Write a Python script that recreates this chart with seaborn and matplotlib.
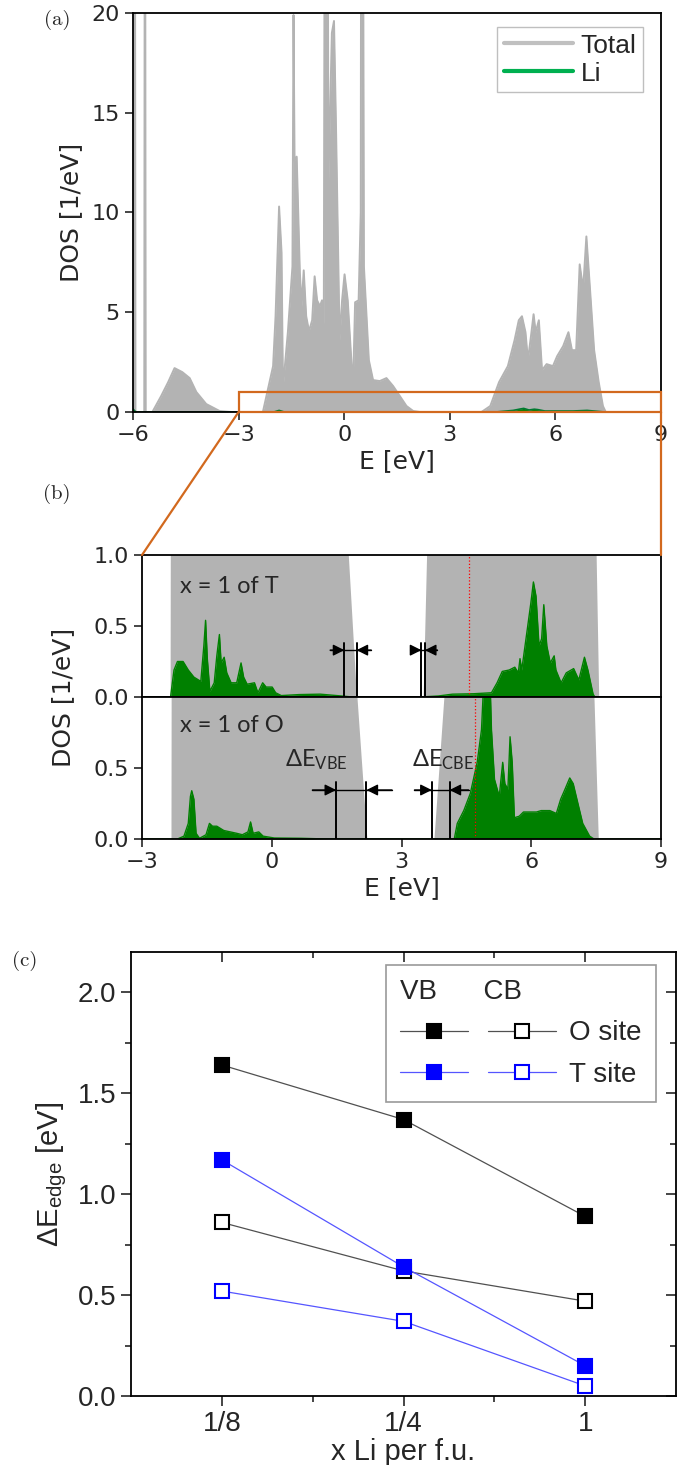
import numpy as np
import pandas as pd
import matplotlib
matplotlib.use("Agg")
import matplotlib.pyplot as plt
import seaborn as sns
from matplotlib.patches import Rectangle, ConnectionPatch
from matplotlib.lines import Line2D
from matplotlib.legend_handler import HandlerTuple
from matplotlib.ticker import MultipleLocator, FixedLocator, FormatStrFormatter

# ---------------- data: panel (a) total DOS and Li DOS ----------------
tot_E = [-6.0, -5.97, -5.95, -5.93, -5.68, -5.66, -5.64, -5.45, -5.2, -5.0, -4.82, -4.6, -4.39,
         -4.2, -3.92, -3.54, -3.2, -2.31, -2.02, -1.95, -1.85, -1.78, -1.74, -1.6, -1.47, -1.44,
         -1.41, -1.35, -1.26, -1.21, -1.15, -1.08, -1.0, -0.91, -0.84, -0.77, -0.69, -0.63, -0.58,
         -0.54, -0.52, -0.48, -0.45, -0.35, -0.29, -0.23, -0.13, -0.06, 0.01, 0.1, 0.25, 0.31, 0.41,
         0.47, 0.49, 0.52, 0.56, 0.7, 0.82, 1.01, 1.2, 1.39, 1.58, 1.77, 1.96, 2.15, 3.9, 4.15, 4.4,
         4.65, 4.84, 4.96, 5.05, 5.15, 5.22, 5.32, 5.38, 5.44, 5.53, 5.62, 5.75, 5.93, 6.05, 6.22,
         6.37, 6.47, 6.59, 6.69, 6.76, 6.8, 6.88, 6.97, 7.1, 7.23, 7.35, 7.43, 9.0]
tot_D = [0, 0, 40, 0, 0, 40, 0, 0, 0.8, 1.5, 2.2, 2.0, 1.7,
         1.0, 0.4, 0.05, 0, 0, 2.3, 4.8, 10.3, 8.0, 1.2, 4.0, 7.3, 19.9,
         12.6, 12.8, 7.0, 5.3, 7.1, 4.8, 4.05, 4.6, 6.8, 5.6, 5.3, 5.6, 3.8,
         40, 11.0, 40, 11.3, 19.0, 19.6, 14.0, 3.6, 5.6, 6.9, 5.6, 1.2, 5.5, 5.6,
         10.0, 40, 40, 7.3, 2.6, 1.6, 1.55, 1.7, 1.3, 0.8, 0.3, 0.05, 0, 0, 0.3, 1.5,
         2.3, 3.6, 4.6, 4.8, 4.0, 2.6, 4.0, 4.9, 4.0, 4.6, 2.1, 2.4, 2.3, 2.8, 3.3,
         4.0, 3.1, 3.1, 7.4, 6.5, 6.5, 8.8, 6.5, 3.1, 1.5, 0.3, 0, 0]
li_E = [-6.0, -5.95, -5.9, -2.0, -1.85, -1.7, 4.3, 4.8, 5.0, 5.1, 5.25, 5.4, 5.5, 5.7, 6.5, 6.9, 7.4, 9.0]
li_D = [0.15, 0.05, 0.0, 0.0, 0.08, 0.0, 0.0, 0.08, 0.15, 0.18, 0.1, 0.14, 0.12, 0.05, 0.05, 0.08, 0.0, 0.0]

# ---------------- data: panel (b) ----------------
# total DOS envelopes (clipped at 1 in the plot)
totT_E = [-3.0, -2.35, -2.33, 1.70, 1.77, 1.96, 3.50, 3.58, 3.65, 7.44, 7.50, 7.56, 9.0]
totT_D = [0, 0, 5, 5, 1.0, 0, 0, 1.0, 5, 5, 1.0, 0, 0]
totO_E = [-3.0, -2.33, -2.31, 1.85, 1.97, 2.20, 3.75, 3.98, 4.05, 7.40, 7.45, 7.55, 9.0]
totO_D = [0, 0, 5, 5, 1.0, 0, 0, 1.0, 5, 5, 1.0, 0, 0]

liT_E = [-3.0, -2.34, -2.26, -2.18, -2.05, -1.93, -1.80, -1.64, -1.57, -1.53, -1.49, -1.43, -1.33,
         -1.27, -1.21, -1.17, -1.10, -1.04, -0.94, -0.81, -0.71, -0.65, -0.57, -0.40, -0.32, -0.21,
         -0.13, 0.01, 0.09, 0.22, 0.63, 1.12, 1.62, 1.87, 3.43, 3.85, 4.18, 4.67, 5.08, 5.21, 5.33,
         5.49, 5.62, 5.70, 5.74, 5.78, 5.91, 5.99, 6.05, 6.11, 6.18, 6.24, 6.29, 6.36, 6.44, 6.53,
         6.57, 6.69, 6.81, 6.98, 7.10, 7.23, 7.31, 7.43, 7.47, 9.0]
liT_D = [0, 0, 0.19, 0.25, 0.25, 0.19, 0.14, 0.11, 0.36, 0.54, 0.27, 0.04, 0.10,
         0.29, 0.44, 0.24, 0.28, 0.17, 0.10, 0.10, 0.24, 0.14, 0.09, 0.10, 0.03, 0.10,
         0.07, 0.07, 0.03, 0.01, 0.017, 0.02, 0.007, 0, 0, 0.007, 0.02, 0.023, 0.03, 0.10, 0.18,
         0.19, 0.21, 0.17, 0.27, 0.19, 0.48, 0.66, 0.81, 0.71, 0.36, 0.41, 0.65, 0.36, 0.24, 0.29,
         0.19, 0.10, 0.17, 0.20, 0.12, 0.28, 0.19, 0.02, 0, 0]
liO_E = [-3.0, -2.18, -2.03, -1.93, -1.88, -1.85, -1.80, -1.75, -1.67, -1.52, -1.44, -1.37, -1.27,
         -1.11, -0.96, -0.81, -0.68, -0.55, -0.49, -0.43, -0.30, -0.20, 0.06, 0.67, 1.28, 4.22,
         4.29, 4.44, 4.59, 4.75, 4.85, 4.93, 5.03, 5.08, 5.15, 5.26, 5.34, 5.39, 5.46, 5.51, 5.56,
         5.61, 5.72, 5.82, 5.97, 6.12, 6.23, 6.43, 6.58, 6.68, 6.78, 6.89, 6.97, 7.04, 7.19, 7.35,
         7.45, 9.0]
liO_D = [0, 0, 0.02, 0.11, 0.30, 0.34, 0.28, 0.04, 0.005, 0.03, 0.11, 0.09, 0.09,
         0.06, 0.05, 0.04, 0.03, 0.05, 0.12, 0.04, 0.05, 0.02, 0.007, 0.005, 0, 0,
         0.11, 0.20, 0.32, 0.54, 0.77, 1.3, 1.3, 0.77, 0.42, 0.30, 0.54, 0.39, 0.35, 0.72, 0.54,
         0.15, 0.16, 0.19, 0.19, 0.19, 0.20, 0.20, 0.18, 0.28, 0.35, 0.43, 0.39, 0.30, 0.11, 0.02,
         0, 0]
fermi_T = 4.56
fermi_O = 4.69
vbe_T = [1.68, 1.96]
cbe_T = [3.46, 3.54]
vbe_O = [1.49, 2.19]
cbe_O = [3.70, 4.11]

# ---------------- data: panel (c) ----------------
x_labels = ["1/8", "1/4", "1"]
vb_O = [1.64, 1.37, 0.89]
cb_O = [0.86, 0.62, 0.47]
vb_T = [1.17, 0.64, 0.15]
cb_T = [0.52, 0.37, 0.05]

# ---------------- style ----------------
sns.set_theme(style="ticks")
plt.rcParams['font.family'] = ['DejaVu Sans']
plt.rcParams['mathtext.default'] = 'regular'
plt.rcParams['axes.linewidth'] = 1.3

GRAY = "#b3b3b3"
GREEN = "#008000"
ORANGE = "#d2691e"

W, H = 691, 1465
fig = plt.figure(figsize=(W / 100, H / 100), dpi=100)

def box(l, t, r, b):
    return [l / W, 1 - b / H, (r - l) / W, (b - t) / H]

ax_a = fig.add_axes(box(133, 13, 661, 412))
ax_bt = fig.add_axes(box(142, 555, 661, 697))
ax_bb = fig.add_axes(box(142, 697, 661, 839), sharex=ax_bt)
ax_c = fig.add_axes(box(131, 952, 676, 1396))

TICK = 16
LAB = 18

# ---------------- panel (a) ----------------
dfa = pd.DataFrame({"E": tot_E, "DOS": tot_D})
dfl = pd.DataFrame({"E": li_E, "DOS": li_D})
ax_a.fill_between(dfa["E"], 0, dfa["DOS"], color=GRAY, lw=0)
sns.lineplot(data=dfa, x="E", y="DOS", ax=ax_a, color=GRAY, lw=1.4,
             sort=False, estimator=None)
ax_a.fill_between(dfl["E"], 0, dfl["DOS"], color=GREEN, lw=0)
sns.lineplot(data=dfl, x="E", y="DOS", ax=ax_a, color="#007a30", lw=1.2,
             sort=False, estimator=None)
ax_a.set_xlim(-6, 9)
ax_a.set_ylim(0, 20)
ax_a.xaxis.set_major_locator(MultipleLocator(3))
ax_a.yaxis.set_major_locator(MultipleLocator(5))
ax_a.set_xlabel("E [eV]", fontsize=LAB, labelpad=3)
ax_a.set_ylabel("DOS [1/eV]", fontsize=LAB, labelpad=6)
ax_a.tick_params(labelsize=TICK, width=1.2, length=6, direction="out")
leg_handles = [Line2D([], [], color="#c0c0c0", lw=3), Line2D([], [], color="#00b050", lw=3)]
leg = ax_a.legend(leg_handles, ["Total", "Li"], loc="upper right",
                  prop={"family": "Liberation Sans", "size": 19},
                  frameon=True, fancybox=False, edgecolor="#b0b0b0", handlelength=2.6,
                  handletextpad=0.3, borderpad=0.25, labelspacing=0.15, borderaxespad=0,
                  bbox_to_anchor=(0.966, 0.965))
leg.get_frame().set_linewidth(1.0)
for sp in ax_a.spines.values():
    sp.set_color("black")

rect = Rectangle((-3, 0), 12, 1, fill=False, edgecolor=ORANGE, lw=1.6, clip_on=False, zorder=5)
ax_a.add_patch(rect)

# ---------------- panel (b) ----------------
panels_b = [
    (ax_bt, totT_E, totT_D, liT_E, liT_D, fermi_T, "x = 1 of T", 0.78),
    (ax_bb, totO_E, totO_D, liO_E, liO_D, fermi_O, "x = 1 of O", 0.80),
]
for ax, tE, tD, lE, lD, ef, txt, ty in panels_b:
    ax.fill_between(tE, 0, tD, color=GRAY, lw=0)
    ax.fill_between(lE, 0, lD, color=GREEN, lw=0)
    sns.lineplot(x=lE, y=lD, ax=ax, color=GREEN, lw=1.0, sort=False, estimator=None)
    ax.axvline(ef, color="red", ls=":", lw=0.9)
    ax.set_xlim(-3, 9)
    ax.set_ylim(0, 1)
    ax.text(-2.13, ty, txt, fontsize=17, family="Lato", va="center", ha="left")
    ax.tick_params(labelsize=TICK, width=1.2, length=6, direction="out")
    ax.set_ylabel("")
    for sp in ax.spines.values():
        sp.set_color("black")

ax_bt.yaxis.set_major_locator(FixedLocator([0.0, 0.5, 1.0]))
ax_bb.yaxis.set_major_locator(FixedLocator([0.0, 0.5]))
ax_bt.yaxis.set_major_formatter(FormatStrFormatter("%.1f"))
ax_bb.yaxis.set_major_formatter(FormatStrFormatter("%.1f"))
ax_bt.tick_params(axis="x", labelbottom=False, length=0)
ax_bb.xaxis.set_major_locator(MultipleLocator(3))
ax_bb.set_xlabel("E [eV]", fontsize=LAB, labelpad=3)
fig.text(63 / W, 1 - 697 / H, "DOS [1/eV]", rotation=90, fontsize=LAB, va="center", ha="center")

def edge_marks(ax, edges, ytop, yarr, off_lo, off_hi):
    for e in edges:
        ax.plot([e, e], [0, ytop], color="black", lw=1.4)
    lo, hi = edges
    ax.plot([lo - off_lo, hi + off_hi], [yarr, yarr], color="black", lw=1.0)
    ax.annotate("", xy=(lo, yarr), xytext=(lo - off_lo, yarr),
                arrowprops=dict(arrowstyle="-|>", color="black", lw=1.0, mutation_scale=17,
                                shrinkA=0, shrinkB=0))
    ax.annotate("", xy=(hi, yarr), xytext=(hi + off_hi, yarr),
                arrowprops=dict(arrowstyle="-|>", color="black", lw=1.0, mutation_scale=17,
                                shrinkA=0, shrinkB=0))

edge_marks(ax_bt, vbe_T, 0.38, 0.33, 0.33, 0.34)
edge_marks(ax_bt, cbe_T, 0.38, 0.33, 0.25, 0.29)
edge_marks(ax_bb, vbe_O, 0.40, 0.345, 0.55, 0.59)
edge_marks(ax_bb, cbe_O, 0.40, 0.345, 0.40, 0.44)
ax_bb.text(0.31, 0.555, r"ΔE$_{VBE}$", fontsize=17, family="Lato", va="center", ha="left")
ax_bb.text(3.24, 0.555, r"ΔE$_{CBE}$", fontsize=17, family="Lato", va="center", ha="left")

# connectors from (a) zoom box to (b)
for xv in (-3, 9):
    con = ConnectionPatch(xyA=(xv, 0), coordsA=ax_a.transData, xyB=(xv, 1), coordsB=ax_bt.transData,
                          color=ORANGE, lw=1.6, zorder=6)
    fig.add_artist(con)

# ---------------- panel (c) ----------------
CFONT = "Liberation Sans"
xpos = list(range(len(x_labels)))
series = [
    (vb_O, "black", "#505050", "black"),
    (cb_O, "black", "#505050", "white"),
    (vb_T, "blue", "#5555ff", "blue"),
    (cb_T, "blue", "#5555ff", "white"),
]
handles = []
for vals, mcol, lcol, face in series:
    sns.lineplot(x=xpos, y=vals, ax=ax_c, color=lcol, lw=0.9, marker="s", markersize=10.5,
                 markerfacecolor=face, markeredgecolor=mcol, markeredgewidth=1.5,
                 estimator=None, sort=False)
    handles.append(Line2D([], [], color=lcol, lw=0.9, marker="s", markersize=10.5,
                          markerfacecolor=face, markeredgecolor=mcol, markeredgewidth=1.5))

ax_c.set_xlim(-0.5, 2.5)
ax_c.set_ylim(0, 2.2)
ax_c.set_xticks(xpos)
ax_c.set_xticklabels(x_labels)
ax_c.xaxis.set_minor_locator(FixedLocator([0.5, 1.5]))
ax_c.yaxis.set_major_locator(MultipleLocator(0.5))
ax_c.yaxis.set_minor_locator(MultipleLocator(0.25))
ax_c.yaxis.set_major_formatter(FormatStrFormatter("%.1f"))
ax_c.tick_params(which="both", labelsize=20, width=1.2, top=True, right=True)
ax_c.tick_params(which="major", length=7)
ax_c.tick_params(which="minor", length=4)
for lab in ax_c.get_xticklabels() + ax_c.get_yticklabels():
    lab.set_family(CFONT)
# top/right ticks point inward, bottom/left outward
for t in ax_c.xaxis.get_major_ticks() + ax_c.xaxis.get_minor_ticks():
    t.tick2line.set_marker(matplotlib.lines.TICKDOWN)
for t in ax_c.yaxis.get_major_ticks() + ax_c.yaxis.get_minor_ticks():
    t.tick2line.set_marker(matplotlib.lines.TICKLEFT)
ax_c.set_xlabel("x Li per f.u.", fontsize=21, family=CFONT, labelpad=1)
ax_c.set_ylabel("ΔE$_{edge}$ [eV]", fontsize=21, family=CFONT, labelpad=6)
for sp in ax_c.spines.values():
    sp.set_color("black")

legc = ax_c.legend([(handles[0], handles[1]), (handles[2], handles[3])], ["O site", "T site"],
                   handler_map={tuple: HandlerTuple(ndivide=None, pad=0.72)},
                   loc="upper right", bbox_to_anchor=(0.963, 0.970), title="VB      CB",
                   alignment="left", handlelength=5.6, borderaxespad=0,
                   frameon=True, fancybox=False, edgecolor="#808080", borderpad=0.5,
                   labelspacing=0.55, handletextpad=0.5,
                   prop={"family": CFONT, "size": 20},
                   title_fontproperties={"family": CFONT, "size": 20})
legc.get_frame().set_linewidth(1.2)

# ---------------- panel labels ----------------
for lbl, x, y in (("(a)", 57, 20), ("(b)", 57, 494), ("(c)", 25, 961)):
    fig.text(x / W, 1 - y / H, lbl, fontsize=15, family="cmr10", va="center", ha="center")

fig.savefig("out.png", dpi=100)
